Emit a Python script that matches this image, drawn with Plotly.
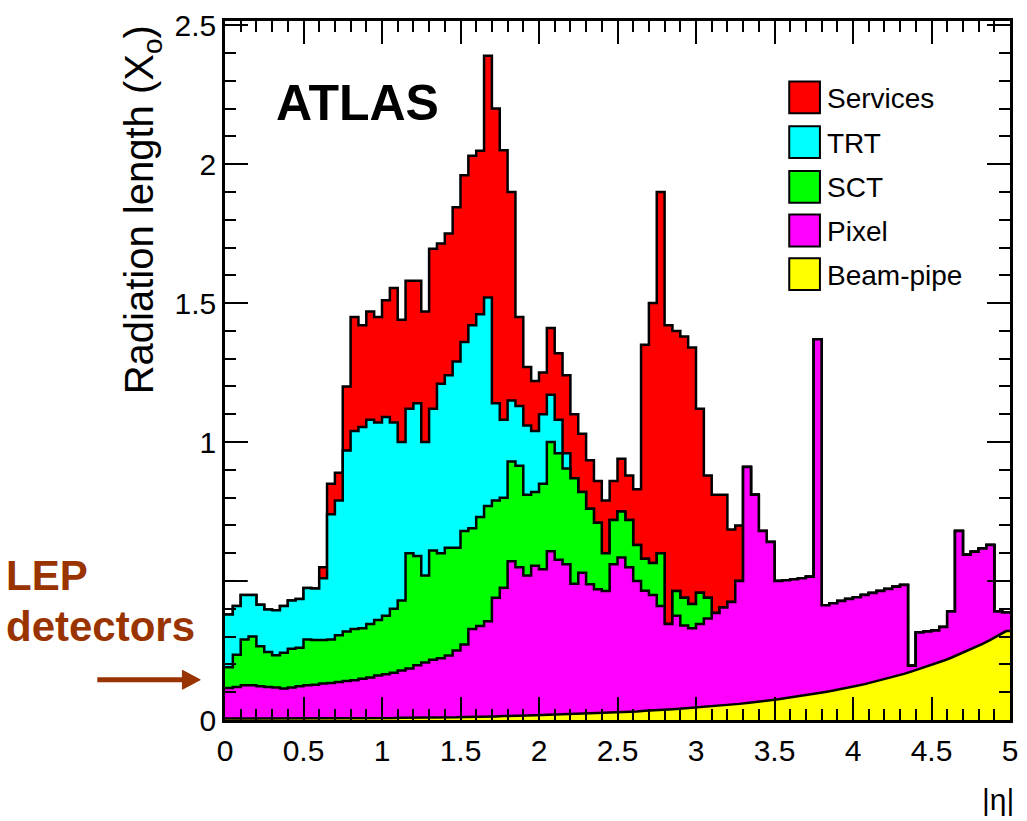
import numpy as np
import plotly.graph_objects as go

# ---------------- data ----------------
bin_width = 0.05
n_bins = 100

# cumulative tops of the stacked histogram, one value per |eta| bin of 0.05
beampipe_top = [
    0.005, 0.005, 0.005, 0.005, 0.005, 0.005, 0.005, 0.005, 0.005, 0.005,
    0.005, 0.005, 0.005, 0.006, 0.006, 0.006, 0.006, 0.006, 0.007, 0.007,
    0.007, 0.007, 0.008, 0.008, 0.008, 0.009, 0.009, 0.010, 0.010, 0.010,
    0.011, 0.011, 0.012, 0.013, 0.013, 0.014, 0.014, 0.015, 0.016, 0.017,
    0.018, 0.018, 0.019, 0.020, 0.021, 0.022, 0.023, 0.024, 0.026, 0.027,
    0.028, 0.030, 0.031, 0.033, 0.034, 0.036, 0.038, 0.040, 0.042, 0.044,
    0.046, 0.048, 0.050, 0.053, 0.055, 0.058, 0.061, 0.064, 0.068, 0.071,
    0.075, 0.079, 0.083, 0.087, 0.091, 0.096, 0.101, 0.106, 0.111, 0.117,
    0.123, 0.129, 0.136, 0.143, 0.150, 0.158, 0.166, 0.175, 0.184, 0.193,
    0.203, 0.213, 0.224, 0.236, 0.248, 0.261, 0.274, 0.288, 0.303, 0.320]

pixel_top = [
    0.115, 0.119, 0.125, 0.125, 0.121, 0.119, 0.117, 0.113, 0.117, 0.121,
    0.125, 0.127, 0.131, 0.133, 0.137, 0.140, 0.143, 0.148, 0.153, 0.160,
    0.165, 0.170, 0.178, 0.185, 0.197, 0.207, 0.217, 0.222, 0.232, 0.250,
    0.272, 0.327, 0.338, 0.355, 0.440, 0.476, 0.571, 0.550, 0.520, 0.555,
    0.542, 0.607, 0.577, 0.560, 0.490, 0.530, 0.488, 0.470, 0.464, 0.560,
    0.585, 0.550, 0.500, 0.465, 0.450, 0.410, 0.345, 0.375, 0.340, 0.330,
    0.345, 0.365, 0.385, 0.405, 0.425, 0.500, 0.910, 0.810, 0.680, 0.640,
    0.500, 0.503, 0.506, 0.510, 0.515, 1.370, 0.413, 0.420, 0.428, 0.435,
    0.442, 0.450, 0.457, 0.464, 0.471, 0.479, 0.486, 0.195, 0.315, 0.318,
    0.322, 0.335, 0.390, 0.680, 0.595, 0.605, 0.617, 0.630, 0.390, 0.387]

sct_top = [
    0.190, 0.235, 0.290, 0.300, 0.265, 0.245, 0.233, 0.242, 0.256, 0.260,
    0.290, 0.288, 0.288, 0.290, 0.305, 0.318, 0.327, 0.330, 0.345, 0.360,
    0.375, 0.400, 0.430, 0.600, 0.590, 0.520, 0.610, 0.600, 0.620, 0.620,
    0.680, 0.690, 0.730, 0.770, 0.790, 0.800, 0.930, 0.915, 0.810, 0.820,
    0.850, 1.000, 0.960, 0.905, 0.870, 0.820, 0.760, 0.710, 0.600, 0.720,
    0.750, 0.720, 0.630, 0.580, 0.565, 0.600, 0.345, 0.464, 0.440, 0.417,
    0.458, 0.440, 0.385, 0.405, 0.425, 0.500, 0.910, 0.810, 0.680, 0.640,
    0.500, 0.503, 0.506, 0.510, 0.515, 1.370, 0.413, 0.420, 0.428, 0.435,
    0.442, 0.450, 0.457, 0.464, 0.471, 0.479, 0.486, 0.195, 0.315, 0.318,
    0.322, 0.335, 0.390, 0.680, 0.595, 0.605, 0.617, 0.630, 0.390, 0.387]

trt_top = [
    0.380, 0.410, 0.450, 0.450, 0.415, 0.398, 0.395, 0.410, 0.430, 0.435,
    0.475, 0.473, 0.510, 0.740, 0.790, 0.970, 1.040, 1.054, 1.080, 1.070,
    1.090, 1.070, 1.000, 1.120, 1.140, 1.000, 1.120, 1.210, 1.240, 1.290,
    1.360, 1.420, 1.460, 1.520, 1.140, 1.080, 1.150, 1.130, 1.060, 1.040,
    1.100, 1.170, 1.080, 0.960, 0.870, 0.820, 0.760, 0.710, 0.600, 0.720,
    0.750, 0.720, 0.630, 0.580, 0.565, 0.600, 0.345, 0.464, 0.440, 0.417,
    0.458, 0.440, 0.385, 0.405, 0.425, 0.500, 0.910, 0.810, 0.680, 0.640,
    0.500, 0.503, 0.506, 0.510, 0.515, 1.370, 0.413, 0.420, 0.428, 0.435,
    0.442, 0.450, 0.457, 0.464, 0.471, 0.479, 0.486, 0.195, 0.315, 0.318,
    0.322, 0.335, 0.390, 0.680, 0.595, 0.605, 0.617, 0.630, 0.390, 0.387]

services_top = [
    0.380, 0.410, 0.450, 0.450, 0.415, 0.398, 0.395, 0.410, 0.430, 0.435,
    0.475, 0.473, 0.550, 0.850, 0.890, 1.200, 1.450, 1.420, 1.470, 1.450,
    1.510, 1.554, 1.440, 1.580, 1.580, 1.470, 1.696, 1.714, 1.750, 1.845,
    1.960, 2.030, 2.048, 2.390, 2.200, 2.050, 1.900, 1.450, 1.270, 1.220,
    1.250, 1.410, 1.320, 1.240, 1.100, 1.030, 0.935, 0.860, 0.790, 0.860,
    0.940, 0.880, 0.830, 1.350, 1.500, 1.900, 1.420, 1.400, 1.380, 1.340,
    1.120, 0.880, 0.810, 0.810, 0.685, 0.700, 0.910, 0.810, 0.680, 0.640,
    0.500, 0.503, 0.506, 0.510, 0.515, 1.370, 0.413, 0.420, 0.428, 0.435,
    0.442, 0.450, 0.457, 0.464, 0.471, 0.479, 0.486, 0.195, 0.315, 0.318,
    0.322, 0.335, 0.390, 0.680, 0.595, 0.605, 0.617, 0.630, 0.390, 0.387]

series_names = ["Services", "TRT", "SCT", "Pixel", "Beam-pipe"]
series_colors = ["#ff0000", "#00ffff", "#00ff00", "#ff00ff", "#ffff00"]

x_tick_vals = [0, 0.5, 1, 1.5, 2, 2.5, 3, 3.5, 4, 4.5, 5]
x_tick_text = ["0", "0.5", "1", "1.5", "2", "2.5", "3", "3.5", "4", "4.5", "5"]
y_tick_vals = [0, 1, 1.5, 2, 2.5]
y_tick_text = ["0", "1", "1.5", "2", "2.5"]
y_unlabelled_major = [0.5]   # its label is hidden behind the "LEP detectors" note

# ---------------- layout geometry (pixels) ----------------
W, H = 1027, 821
L, R, T, B = 225, 9, 16, 101
PW, PH = W - L - R, H - T - B
MAJOR_LEN, MINOR_LEN = 23, 11


def px2x(px):
    return (px - L) / PW


def py2y(py):
    return (H - B - py) / PH


edges = np.round(np.arange(n_bins + 1) * bin_width, 4)
centers = edges[:-1] + bin_width / 2

fig = go.Figure()

step_series = [services_top, trt_top, sct_top, pixel_top]
for vals, col in zip(step_series, series_colors[:4]):
    fig.add_trace(go.Scatter(
        x=edges, y=list(vals) + [vals[-1]], mode="lines",
        line=dict(color="black", width=2.5, shape="hv"),
        fill="tozeroy", fillcolor=col, showlegend=False, hoverinfo="skip"))

fig.add_trace(go.Scatter(
    x=[edges[0]] + list(centers) + [edges[-1]],
    y=[beampipe_top[0]] + beampipe_top + [beampipe_top[-1]],
    mode="lines", line=dict(color="black", width=2.5, shape="linear"),
    fill="tozeroy", fillcolor=series_colors[4], showlegend=False, hoverinfo="skip"))

narrow = "Liberation Sans Narrow, Arial Narrow, Liberation Sans, Arial, sans-serif"
sans = "Liberation Sans, Arial, Helvetica, sans-serif"

axis_common = dict(
    ticks="inside", ticklen=MAJOR_LEN, tickwidth=2, tickcolor="black",
    showline=True, linecolor="black", linewidth=2.5, mirror="allticks",
    showgrid=False, zeroline=False,
    tickfont=dict(family=narrow, size=30, color="black"),
    minor=dict(dtick=0.1, ticks="inside", ticklen=MINOR_LEN, tickwidth=2,
               tickcolor="black", showgrid=False),
)

fig.update_layout(
    width=W, height=H,
    margin=dict(l=L, r=R, t=T, b=B, pad=0),
    paper_bgcolor="white", plot_bgcolor="white",
    showlegend=False,
    xaxis=dict(range=[0, 5], tickmode="array", tickvals=x_tick_vals,
               ticktext=x_tick_text, ticklabelstandoff=2, **axis_common),
    yaxis=dict(range=[0, 2.515], tickmode="array", tickvals=y_tick_vals,
               ticktext=y_tick_text, ticklabelstandoff=0, **axis_common),
)

shapes = []
annotations = []

# unlabelled major y tick (left and mirrored right side)
for yv in y_unlabelled_major:
    shapes.append(dict(type="line", xref="paper", yref="y",
                       x0=0, x1=MAJOR_LEN / PW, y0=yv, y1=yv,
                       line=dict(color="black", width=2), layer="above"))
    shapes.append(dict(type="line", xref="paper", yref="y",
                       x0=1 - MAJOR_LEN / PW, x1=1, y0=yv, y1=yv,
                       line=dict(color="black", width=2), layer="above"))

# legend
box_tops = [77, 122, 167, 211, 255]
for name, col, top in zip(series_names, series_colors, box_tops):
    shapes.append(dict(type="rect", xref="paper", yref="paper",
                       x0=px2x(795), x1=px2x(826), y0=py2y(top + 32), y1=py2y(top),
                       line=dict(color="black", width=2), fillcolor=col, layer="above"))
    annotations.append(dict(xref="paper", yref="paper", x=px2x(831), y=py2y(top + 17),
                            xanchor="left", yanchor="middle", showarrow=False,
                            text=name, font=dict(family=narrow, size=28, color="black")))

# ATLAS label
annotations.append(dict(xref="paper", yref="paper", x=px2x(274), y=py2y(99),
                        xanchor="left", yanchor="middle", showarrow=False,
                        text="<b>ATLAS</b>", font=dict(family=sans, size=50, color="black")))

# y axis title
annotations.append(dict(xref="paper", yref="paper", x=px2x(142), y=py2y(18),
                        xanchor="center", yanchor="top", showarrow=False, textangle=-90,
                        text="Radiation length (X<sub>o</sub>)",
                        font=dict(family=sans, size=40, color="black")))

# x axis title
annotations.append(dict(xref="paper", yref="paper", x=px2x(1024), y=py2y(800),
                        xanchor="right", yanchor="middle", showarrow=False,
                        text="|η|", font=dict(family=narrow, size=30, color="black")))

# LEP detectors note
brown = "#993300"
annotations.append(dict(xref="paper", yref="paper", x=px2x(2), y=py2y(574),
                        xanchor="left", yanchor="middle", showarrow=False,
                        text="<b>LEP</b>", font=dict(family=sans, size=42, color=brown)))
annotations.append(dict(xref="paper", yref="paper", x=px2x(2), y=py2y(626),
                        xanchor="left", yanchor="middle", showarrow=False,
                        text="<b>detectors</b>", font=dict(family=sans, size=42, color=brown)))
shapes.append(dict(type="line", xref="paper", yref="paper",
                   x0=px2x(96), x1=px2x(184), y0=py2y(679.5), y1=py2y(679.5),
                   line=dict(color=brown, width=5)))
shapes.append(dict(type="path", xref="paper", yref="paper",
                   path="M {} {} L {} {} L {} {} Z".format(
                       px2x(182), py2y(670), px2x(200), py2y(679.5), px2x(182), py2y(689)),
                   fillcolor=brown, line=dict(color=brown, width=1)))

fig.update_layout(shapes=shapes, annotations=annotations)

fig.write_html("out.html", config={"displayModeBar": False})
